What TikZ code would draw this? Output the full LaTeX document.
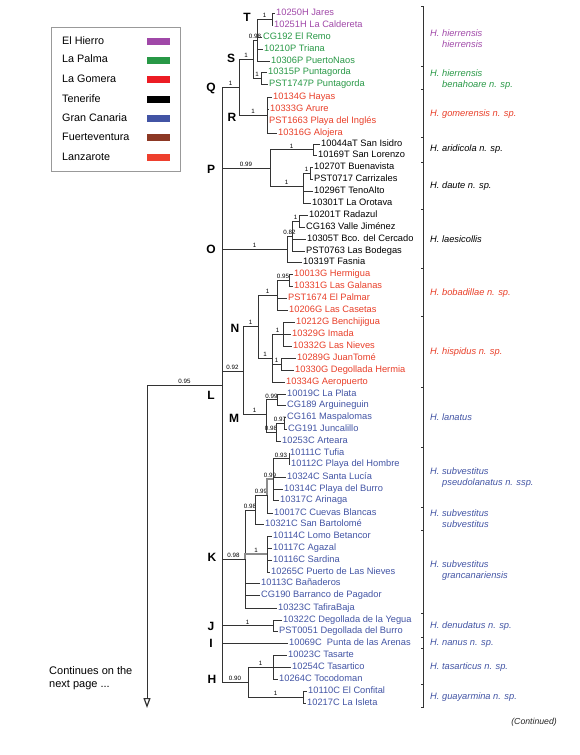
\documentclass[tikz,border=0pt]{standalone}
\usepackage{fontspec}
\setmainfont{Liberation Sans}
\usetikzlibrary{arrows.meta}

\definecolor{hierro}{RGB}{160,72,168}
\definecolor{palma}{RGB}{40,152,70}
\definecolor{gomera}{RGB}{232,62,40}
\definecolor{gomerabox}{RGB}{236,28,36}
\definecolor{canaria}{RGB}{66,84,164}
\definecolor{fuerte}{RGB}{140,56,36}
\definecolor{lanza}{RGB}{238,64,46}

\begin{document}
\begin{tikzpicture}[x=1pt,y=-1pt,>={Triangle[open,length=10pt,width=7pt,line width=1.2pt]},
    branch/.style={draw=black!80,line width=0.6pt},
    hl/.style={draw=black!45,line width=1.6pt},
    leaf/.style={anchor=west,inner sep=1pt,text height=6.8pt,text depth=1.9pt,font=\fontsize{9.3}{10}\selectfont},
    boot/.style={pos=0.75,above,inner sep=0.8pt,font=\fontsize{6.2}{6}\selectfont},
    clade/.style={inner sep=0pt,font=\fontsize{12}{12}\selectfont\bfseries},
    taxon/.style={anchor=west,align=left,inner sep=0pt,font=\fontsize{9.3}{11}\selectfont\itshape},
    legtext/.style={anchor=west,inner sep=0pt,font=\fontsize{10.8}{11}\selectfont},
    swatch/.style={minimum width=23pt,minimum height=7pt,inner sep=0pt}]
\useasboundingbox (0,0) rectangle (579,755);

% legend
\draw[black!40,line width=0.8pt] (51,27) rectangle (180,171);
\node[legtext] (lhierro) at (62,41) {El Hierro};
\node[legtext] (lpalma) at (62,59) {La Palma};
\node[legtext] (lgomera) at (62,79) {La Gomera};
\node[legtext] (ltenerife) at (62,99) {Tenerife};
\node[legtext] (lcanaria) at (62,118) {Gran Canaria};
\node[legtext] (lfuerte) at (62,137) {Fuerteventura};
\node[legtext] (llanza) at (62,157) {Lanzarote};
\node[swatch,fill=hierro] (shierro) at (158.5,41) {};
\node[swatch,fill=palma] (spalma) at (158.5,60) {};
\node[swatch,fill=gomerabox] (sgomera) at (158.5,79) {};
\node[swatch,fill=black] (stenerife) at (158.5,99) {};
\node[swatch,fill=canaria] (scanaria) at (158.5,118) {};
\node[swatch,fill=fuerte] (sfuerte) at (158.5,137) {};
\node[swatch,fill=lanza] (slanza) at (158.5,157) {};

% internal nodes
\coordinate (root) at (147,385);
\coordinate (rootend) at (147,708);
\coordinate (L) at (222,385);
\coordinate (Q) at (239,87);
\coordinate (S) at (253,59);
\coordinate (n98T) at (257,40);
\coordinate (T) at (272,19);
\coordinate (nPunta) at (261,78);
\coordinate (R) at (267,115);
\coordinate (P) at (270,168);
\coordinate (nIsidro) at (313,149.5);
\coordinate (nBuena) at (303,186);
\coordinate (nBV) at (310,173);
\coordinate (O) at (287,249);
\coordinate (n82) at (292,236);
\coordinate (nRad) at (299,221);
\coordinate (n92) at (243,371);
\coordinate (N) at (258,326);
\coordinate (nBob) at (277,295);
\coordinate (nHerm) at (289,280);
\coordinate (nHisp) at (272,358);
\coordinate (nBench) at (283,334);
\coordinate (nJuan) at (281,364);
\coordinate (M) at (266,414);
\coordinate (nPlata) at (277,399.5);
\coordinate (n98M) at (276,432);
\coordinate (nMasp) at (284,423);
\coordinate (K) at (245,559);
\coordinate (n98K) at (255,510);
\coordinate (n99b) at (267,495);
\coordinate (n99a) at (273,479);
\coordinate (nTufia) at (289,458.5);
\coordinate (nGran) at (267,554);
\coordinate (J) at (273,625.5);
\coordinate (H) at (248,682);
\coordinate (nTas) at (273,667);
\coordinate (nConf) at (303,697);

% leaves
\node[leaf,hierro] (jares) at (275,13) {10250H Jares};
\node[leaf,hierro] (caldereta) at (273,25) {10251H La Caldereta};
\node[leaf,palma] (remo) at (262,37) {CG192 El Remo};
\node[leaf,palma] (triana) at (263,49) {10210P Triana};
\node[leaf,palma] (naos) at (270,61) {10306P PuertoNaos};
\node[leaf,palma] (punta1) at (267,72) {10315P Puntagorda};
\node[leaf,palma] (punta2) at (268,84) {PST1747P Puntagorda};
\node[leaf,gomera] (hayas) at (272,97) {10134G Hayas};
\node[leaf,gomera] (arure) at (269,109) {10333G Arure};
\node[leaf,gomera] (ingles) at (268,121) {PST1663 Playa del Inglés};
\node[leaf,gomera] (alojera) at (277,133) {10316G Alojera};
\node[leaf] (isidro) at (320,144) {10044aT San Isidro};
\node[leaf] (lorenzo) at (317,155) {10169T San Lorenzo};
\node[leaf] (buena) at (313,167) {10270T Buenavista};
\node[leaf] (carri) at (313,179) {PST0717 Carrizales};
\node[leaf] (teno) at (313,191) {10296T TenoAlto};
\node[leaf] (orotava) at (311,203) {10301T La Orotava};
\node[leaf] (radazul) at (308,215) {10201T Radazul};
\node[leaf] (valle) at (305,227) {CG163 Valle Jiménez};
\node[leaf] (cercado) at (306,239) {10305T Bco. del Cercado};
\node[leaf] (bodegas) at (305,251) {PST0763 Las Bodegas};
\node[leaf] (fasnia) at (302,262) {10319T Fasnia};
\node[leaf,gomera] (hermigua) at (293,274) {10013G Hermigua};
\node[leaf,gomera] (galanas) at (293,286) {10331G Las Galanas};
\node[leaf,gomera] (palmar) at (287,298) {PST1674 El Palmar};
\node[leaf,gomera] (casetas) at (288,310) {10206G Las Casetas};
\node[leaf,gomera] (benchi) at (295,322) {10212G Benchijigua};
\node[leaf,gomera] (imada) at (291,334) {10329G Imada};
\node[leaf,gomera] (nievesG) at (292,346) {10332G Las Nieves};
\node[leaf,gomera] (juan) at (296,358) {10289G JuanTomé};
\node[leaf,gomera] (hermia) at (294,370) {10330G Degollada Hermia};
\node[leaf,gomera] (aero) at (285,382) {10334G Aeropuerto};
\node[leaf,canaria] (plata) at (286,394) {10019C La Plata};
\node[leaf,canaria] (argui) at (286,405) {CG189 Arguineguin};
\node[leaf,canaria] (maspa) at (286,417) {CG161 Maspalomas};
\node[leaf,canaria] (junca) at (287,429) {CG191 Juncalillo};
\node[leaf,canaria] (arteara) at (281,441) {10253C Arteara};
\node[leaf,canaria] (tufia) at (289,453) {10111C Tufia};
\node[leaf,canaria] (hombre) at (290,464) {10112C Playa del Hombre};
\node[leaf,canaria] (lucia) at (286,477) {10324C Santa Lucía};
\node[leaf,canaria] (burro) at (283,489) {10314C Playa del Burro};
\node[leaf,canaria] (arinaga) at (279,500) {10317C Arinaga};
\node[leaf,canaria] (cuevas) at (273,513) {10017C Cuevas Blancas};
\node[leaf,canaria] (bartolome) at (264,524) {10321C San Bartolomé};
\node[leaf,canaria] (lomo) at (272,536) {10114C Lomo Betancor};
\node[leaf,canaria] (agazal) at (272,548) {10117C Agazal};
\node[leaf,canaria] (sardina) at (272,560) {10116C Sardina};
\node[leaf,canaria] (nievesC) at (270,572) {10265C Puerto de Las Nieves};
\node[leaf,canaria] (banaderos) at (260,583) {10113C Bañaderos};
\node[leaf,canaria] (pagador) at (260,595) {CG190 Barranco de Pagador};
\node[leaf,canaria] (tafira) at (277,608) {10323C TafiraBaja};
\node[leaf,canaria] (yegua) at (282,620) {10322C Degollada de la Yegua};
\node[leaf,canaria] (burroJ) at (278,631) {PST0051 Degollada del Burro};
\node[leaf,canaria] (arenas) at (288,643) {10069C\ \ Punta de las Arenas};
\node[leaf,canaria] (tasarte) at (287,655) {10023C Tasarte};
\node[leaf,canaria] (tasartico) at (291,667) {10254C Tasartico};
\node[leaf,canaria] (tocodoman) at (278,679) {10264C Tocodoman};
\node[leaf,canaria] (confital) at (307,691) {10110C El Confital};
\node[leaf,canaria] (isleta) at (306,703) {10217C La Isleta};

% clade letters
\node[clade] (labT) at (247,17) {T};
\node[clade] (labS) at (231,58) {S};
\node[clade] (labQ) at (211,88) {Q};
\node[clade] (labR) at (232,117) {R};
\node[clade] (labP) at (211,169) {P};
\node[clade] (labO) at (211,249) {O};
\node[clade] (labN) at (235,328) {N};
\node[clade] (labL) at (211,395) {L};
\node[clade] (labM) at (234,418) {M};
\node[clade] (labK) at (212,557) {K};
\node[clade] (labJ) at (211,626) {J};
\node[clade] (labI) at (211,643) {I};
\node[clade] (labH) at (212,679) {H};

% root
\draw[branch] (root) -- node[above,inner sep=0.8pt,font=\fontsize{6.2}{6}\selectfont] {0.95} (L);
\draw[branch,line width=0.8pt,->] (root) -- (rootend);

% L
\draw[branch] (L) |- node[boot] {1} (Q);
\draw[branch] (L) |- node[boot] {0.99} (P);
\draw[branch] (L) |- node[boot] {1} (O);
\draw[branch] (L) |- node[boot] {0.92} (n92);
\draw[branch] (L) |- node[boot] {0.98} (K);
\draw[branch] (L) |- node[boot] {1} (J);
\draw[branch] (L) |- (arenas);
\draw[branch] (L) |- node[boot] {0.90} (H);

% Q
\draw[branch] (Q) |- node[boot] {1} (S);
\draw[branch] (Q) |- node[boot] {1} (R);
\draw[branch] (S) |- node[boot] {0.98} (n98T);
\draw[branch] (S) |- node[boot] {1} (nPunta);
\draw[branch] (n98T) |- node[boot] {1} (T);
\draw[branch] (n98T) |- (remo);
\draw[branch] (n98T) |- (triana);
\draw[branch] (n98T) |- (naos);
\draw[branch] (T) |- (jares);
\draw[branch] (T) |- (caldereta);
\draw[branch] (nPunta) |- (punta1);
\draw[branch] (nPunta) |- (punta2);
\draw[branch] (R) |- (hayas);
\draw[branch] (R) |- (arure);
\draw[branch] (R) |- (ingles);
\draw[branch] (R) |- (alojera);

% P
\draw[branch] (P) |- node[boot] {1} (nIsidro);
\draw[branch] (P) |- node[boot] {1} (nBuena);
\draw[branch] (nIsidro) |- (isidro);
\draw[branch] (nIsidro) |- (lorenzo);
\draw[branch] (nBuena) |- node[boot] {1} (nBV);
\draw[branch] (nBuena) |- (teno);
\draw[branch] (nBuena) |- (orotava);
\draw[branch] (nBV) |- (buena);
\draw[branch] (nBV) |- (carri);

% O
\draw[branch] (O) |- node[boot] {0.82} (n82);
\draw[branch] (O) |- (fasnia);
\draw[branch] (n82) |- node[boot] {1} (nRad);
\draw[branch] (n82) |- (cercado);
\draw[branch] (n82) |- (bodegas);
\draw[branch] (nRad) |- (radazul);
\draw[branch] (nRad) |- (valle);

% N and M
\draw[branch] (n92) |- node[boot] {1} (N);
\draw[branch] (n92) |- node[boot] {1} (M);
\draw[branch] (N) |- node[boot] {1} (nBob);
\draw[branch] (N) |- node[boot] {1} (nHisp);
\draw[branch] (nBob) |- node[boot] {0.95} (nHerm);
\draw[branch] (nBob) |- (palmar);
\draw[branch] (nBob) |- (casetas);
\draw[branch] (nHerm) |- (hermigua);
\draw[branch] (nHerm) |- (galanas);
\draw[branch] (nHisp) |- node[boot] {1} (nBench);
\draw[branch] (nHisp) |- node[boot] {1} (nJuan);
\draw[branch] (nHisp) |- (aero);
\draw[branch] (nBench) |- (benchi);
\draw[branch] (nBench) |- (imada);
\draw[branch] (nBench) |- (nievesG);
\draw[branch] (nJuan) |- (juan);
\draw[branch] (nJuan) |- (hermia);
\draw[branch] (M) |- node[boot] {0.99} (nPlata);
\draw[branch] (M) |- node[boot] {0.98} (n98M);
\draw[branch] (nPlata) |- (plata);
\draw[branch] (nPlata) |- (argui);
\draw[branch] (n98M) |- node[boot] {0.97} (nMasp);
\draw[branch] (n98M) |- (arteara);
\draw[branch] (nMasp) |- (maspa);
\draw[branch] (nMasp) |- (junca);

% K
\draw[branch] (K) |- node[boot] {0.98} (n98K);
\draw[hl] (K) |- node[boot,text=black] {1} (nGran);
\draw[branch] (K) |- (banaderos);
\draw[branch] (K) |- (pagador);
\draw[branch] (K) |- (tafira);
\draw[branch] (n98K) |- node[boot] {0.99} (n99b);
\draw[branch] (n98K) |- (bartolome);
\draw[hl] (n99b) |- node[boot,text=black] {0.99} (n99a);
\draw[branch] (n99b) |- (cuevas);
\draw[branch] (n99a) |- node[boot] {0.93} (nTufia);
\draw[branch] (n99a) |- (lucia);
\draw[branch] (n99a) |- (burro);
\draw[branch] (n99a) |- (arinaga);
\draw[branch] (nTufia) |- (tufia);
\draw[branch] (nTufia) |- (hombre);
\draw[branch] (nGran) |- (lomo);
\draw[branch] (nGran) |- (agazal);
\draw[branch] (nGran) |- (sardina);
\draw[branch] (nGran) |- (nievesC);

% J, H
\draw[branch] (J) |- (yegua);
\draw[branch] (J) |- (burroJ);
\draw[branch] (H) |- node[boot] {1} (nTas);
\draw[branch] (H) |- node[boot] {1} (nConf);
\draw[branch] (nTas) |- (tasarte);
\draw[branch] (nTas) |- (tasartico);
\draw[branch] (nTas) |- (tocodoman);
\draw[branch] (nConf) |- (confital);
\draw[branch] (nConf) |- (isleta);

% species bracket
\draw[branch] (421,6) -- (423,6) -- (423,707) -- (421,707)
  (421,66) -- (423,66) (421,89) -- (423,89) (421,137) -- (423,137)
  (421,162) -- (423,162) (421,209) -- (423,209) (421,268) -- (423,268)
  (421,316) -- (423,316) (421,387) -- (423,387) (421,447) -- (423,447)
  (421,507) -- (423,507) (421,530) -- (423,530) (421,613) -- (423,613)
  (421,637) -- (423,637) (421,648) -- (423,648) (421,684) -- (423,684);

\node[taxon,hierro] (hierrensis) at (430,38.5) {H. hierrensis\\\hspace*{12pt}hierrensis};
\node[taxon,palma] (benahoare) at (430,79.5) {H. hierrensis\\\hspace*{12pt}benahoare n. sp.};
\node[taxon,gomera] (gomerensis) at (430,114) {H. gomerensis n. sp.};
\node[taxon] (aridicola) at (430,149) {H. aridicola n. sp.};
\node[taxon] (daute) at (430,186) {H. daute n. sp.};
\node[taxon] (laesicollis) at (430,239) {H. laesicollis};
\node[taxon,gomera] (bobadillae) at (430,293) {H. bobadillae n. sp.};
\node[taxon,gomera] (hispidus) at (430,352) {H. hispidus n. sp.};
\node[taxon,canaria] (lanatus) at (430,417) {H. lanatus};
\node[taxon,canaria] (pseudolanatus) at (430,478) {H. subvestitus\\\hspace*{12pt}pseudolanatus n. ssp.};
\node[taxon,canaria] (subvestitus) at (430,519) {H. subvestitus\\\hspace*{12pt}subvestitus};
\node[taxon,canaria] (grancanariensis) at (430,571) {H. subvestitus\\\hspace*{12pt}grancanariensis};
\node[taxon,canaria] (denudatus) at (430,626) {H. denudatus n. sp.};
\node[taxon,canaria] (nanus) at (430,643) {H. nanus n. sp.};
\node[taxon,canaria] (tasarticus) at (430,667) {H. tasarticus n. sp.};
\node[taxon,canaria] (guayarmina) at (430,697) {H. guayarmina n. sp.};

\node[anchor=north west,align=left,inner sep=0pt,font=\fontsize{11}{13.5}\selectfont] (cont) at (49,666) {Continues on the\\next page ...};
\node[anchor=east,inner sep=0pt,font=\fontsize{8.7}{9}\selectfont\itshape,black!85] (continued) at (557,722) {(Continued)};
\end{tikzpicture}
\end{document}
